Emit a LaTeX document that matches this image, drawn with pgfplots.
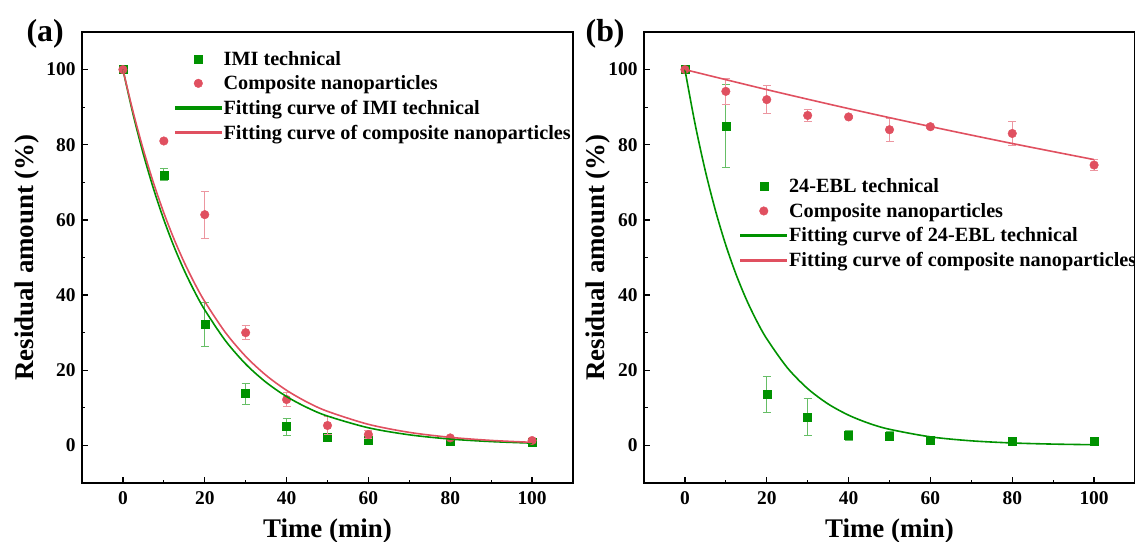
\documentclass[border=0pt]{standalone}
\usepackage{fontspec}
\setmainfont{Liberation Serif}
\usepackage{pgfplots}
\pgfplotsset{compat=1.18}
\usepackage{pgfplotstable}

\definecolor{imigreen}{RGB}{0,146,0}
\definecolor{nanored}{RGB}{224,80,96}

% measured residues: time, mean, error
\pgfplotstableread{
t y ey
0 100 0
10 72 1.6
20 32.2 5.8
30 13.8 2.8
40 5.0 2.3
50 2.3 0.5
60 1.5 0.4
80 1.2 0.3
100 0.8 0.3
}\imitech
\pgfplotstableread{
t y ey
0 100 0
10 81 0.5
20 61.4 6.2
30 30.0 1.9
40 12.2 1.9
50 5.3 2.4
60 2.9 1.0
80 2.0 0.4
100 1.3 0.4
}\imicomp
\pgfplotstableread{
t y ey
0 100 0
10 85 11
20 13.5 4.8
30 7.6 5.0
40 2.6 1.4
50 2.5 1.2
60 1.5 0.4
80 1.0 0.3
100 1.0 0.3
}\ebltech
\pgfplotstableread{
t y ey
0 100 0
10 94.2 3.4
20 92.0 3.8
30 87.8 1.7
40 87.4 0.5
50 84.0 3.1
60 84.8 0.5
80 83.0 3.1
100 74.6 1.5
}\eblcomp

\newcommand\tickfont{\fontsize{19.5}{22}\selectfont\bfseries}

\pgfplotsset{
  kinetics/.style={
    scale only axis, width=491bp, height=451bp,
    xmin=-10, xmax=110, ymin=-10, ymax=110,
    xtick={0,20,...,100}, ytick={0,20,...,100},
    xticklabels={0,20,40,60,80,100}, yticklabels={0,20,40,60,80,100},
    minor x tick num=1, minor y tick num=1,
    tick align=inside, xtick pos=bottom, ytick pos=left,
    major tick length=6bp, minor tick length=3.5bp,
    tick style={line width=1.2bp, black},
    axis line style={line width=1.3bp},
    xticklabel style={font=\tickfont, yshift=-5bp},
    yticklabel style={font=\tickfont, xshift=-3bp},
    xlabel={Time (min)},
    ylabel={Residual amount (\%)},
    xlabel style={font=\fontsize{27}{30}\selectfont\bfseries,
      at={(axis description cs:0.5,-0.12)}, anchor=base},
    ylabel style={font=\fontsize{27}{30}\selectfont\bfseries},
    legend style={draw=none, fill=none, anchor=north west, row sep=5bp,
      font=\fontsize{20.3}{22.5}\selectfont\bfseries},
    legend cell align=left,
    clip mode=individual,
  },
  pts/.style n args={3}{only marks, mark=#1, color=#2, mark size=#3,
    mark options={fill=#2, draw=#2},
    legend image code/.code={\pgfuseplotmark{#1}},
    legend image post style={xshift=22.5bp},
    error bars/error bar style={#2!60, line width=0.9bp},
    error bars/error mark options={rotate=90, mark size=4bp, line width=0.9bp},
    error bars/y dir=both, error bars/y explicit},
  fit/.style={no marks, smooth, line width=1.6bp, color=#1,
    legend image code/.code={\fill[#1] (0bp,-1bp) rectangle (45bp,1bp);}},
}

\begin{document}
\begin{tikzpicture}
\path[use as bounding box] (-82bp,-59bp) rectangle (1053bp,483bp);

\begin{axis}[kinetics, at={(0bp,0bp)}, anchor=south west,
  ylabel style={at={(axis description cs:-0.112,0.5)}, anchor=center},
  legend style={at={(0.183,0.967)}}]
\addplot[pts={square*}{imigreen}{4bp}] table[x=t, y=y, y error=ey] {\imitech};
\addlegendentry{IMI technical}
\addplot[pts={*}{nanored}{4.3bp}] table[x=t, y=y, y error=ey] {\imicomp};
\addlegendentry{Composite nanoparticles}
\addplot[fit=imigreen] coordinates {
  (0,100) (2.5,88.03) (5,77.49) (7.5,68.21) (10,60.05) (12.5,52.86) (15,46.53)
  (17.5,40.96) (20,36.06) (25,27.94) (30,21.65) (35,16.78) (40,13.00) (45,10.08)
  (50,7.81) (60,4.69) (70,2.82) (80,1.69) (90,1.02) (100,0.61)};
\addlegendentry{Fitting curve of IMI technical}
\addplot[fit=nanored] coordinates {
  (0,100) (2.5,88.69) (5,78.66) (7.5,69.77) (10,61.88) (12.5,54.88) (15,48.68)
  (17.5,43.17) (20,38.29) (25,30.12) (30,23.69) (35,18.64) (40,14.66) (45,11.53)
  (50,9.07) (60,5.61) (70,3.47) (80,2.15) (90,1.33) (100,0.82)};
\addlegendentry{Fitting curve of composite nanoparticles}
\node[font=\fontsize{32}{34}\selectfont\bfseries, anchor=base west]
  at (rel axis cs:-0.12,0.98) {(a)};
\end{axis}

\begin{axis}[kinetics, at={(562bp,0bp)}, anchor=south west,
  ylabel style={at={(axis description cs:-0.094,0.5)}, anchor=center},
  legend style={at={(0.19,0.684)}}]
\addplot[pts={square*}{imigreen}{4bp}] table[x=t, y=y, y error=ey] {\ebltech};
\addlegendentry{24-EBL technical}
\addplot[pts={*}{nanored}{4.3bp}] table[x=t, y=y, y error=ey] {\eblcomp};
\addlegendentry{Composite nanoparticles}
\addplot[fit=imigreen] coordinates {
  (0,100) (2.5,85.43) (5,72.98) (7.5,62.35) (10,53.26) (12.5,45.50) (15,38.87)
  (17.5,33.21) (20,28.37) (25,20.70) (30,15.11) (35,11.03) (40,8.05) (45,5.87)
  (50,4.29) (60,2.28) (70,1.22) (80,0.65) (90,0.35) (100,0.18)};
\addlegendentry{Fitting curve of 24-EBL technical}
\addplot[fit=nanored] coordinates {
  (0,100) (20,94.67) (40,89.62) (60,84.85) (80,80.33) (100,76.05)};
\addlegendentry{Fitting curve of composite nanoparticles}
\node[font=\fontsize{32}{34}\selectfont\bfseries, anchor=base west]
  at (rel axis cs:-0.126,0.98) {(b)};
\end{axis}
\end{tikzpicture}
\end{document}
